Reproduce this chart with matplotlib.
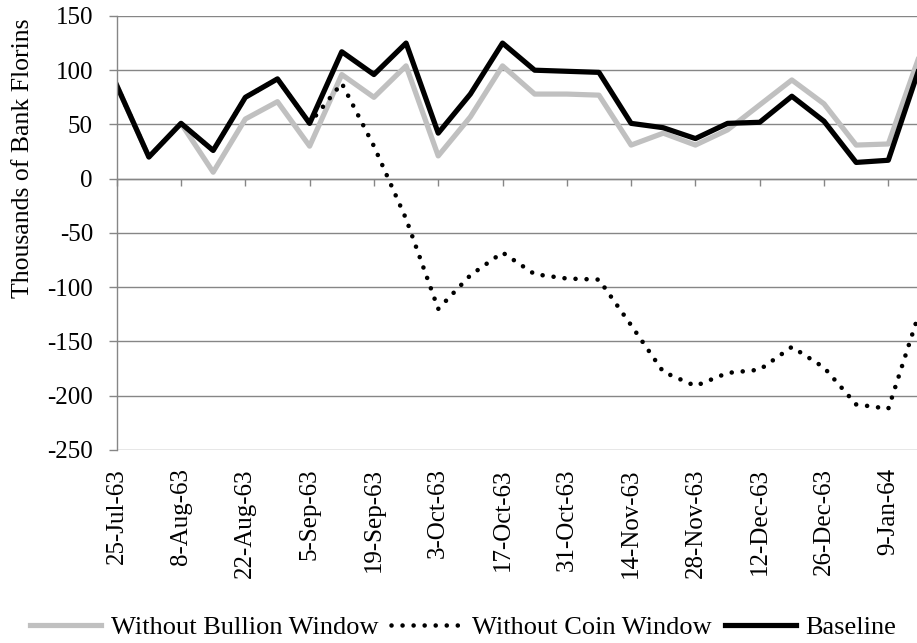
import pandas as pd
import matplotlib
matplotlib.use('Agg')
import matplotlib.pyplot as plt
import matplotlib.dates as mdates

plt.rcParams['font.family'] = ['Liberation Serif', 'DejaVu Serif']
plt.rcParams['axes.unicode_minus'] = False

# weekly observations, thousands of bank florins
weeks = pd.to_datetime([
    '1963-07-25', '1963-08-01', '1963-08-08', '1963-08-15', '1963-08-22',
    '1963-08-29', '1963-09-05', '1963-09-12', '1963-09-19', '1963-09-26',
    '1963-10-03', '1963-10-10', '1963-10-17', '1963-10-24', '1963-10-31',
    '1963-11-07', '1963-11-14', '1963-11-21', '1963-11-28', '1963-12-05',
    '1963-12-12', '1963-12-19', '1963-12-26', '1964-01-02', '1964-01-09',
    '1964-01-16'])

no_bullion = [86, 20, 51, 6, 55, 71, 30, 96, 75, 104, 21, 57, 104, 78, 78,
              77, 31, 42, 31, 45, 68, 91, 69, 31, 32, 116]
no_coin = [86, 20, 51, 26, 75, 92, 51, 88, 30, -37, -120, -89, -68, -88, -92,
           -93, -135, -178, -191, -179, -176, -155, -174, -208, -212, -120]
baseline = [86, 20, 51, 26, 75, 92, 51, 117, 96, 125, 42, 78, 125, 100, 99,
            98, 51, 47, 37, 51, 52, 76, 53, 15, 17, 105]

tick_labels = ['25-Jul-63', '8-Aug-63', '22-Aug-63', '5-Sep-63', '19-Sep-63',
               '3-Oct-63', '17-Oct-63', '31-Oct-63', '14-Nov-63', '28-Nov-63',
               '12-Dec-63', '26-Dec-63', '9-Jan-64']
tick_dates = weeks[::2]

grey = '#868686'

fig = plt.figure(figsize=(9.17, 6.43), dpi=100)
ax = fig.add_axes([0.1273, 0.3002, 0.8727, 0.6750])

ax.plot(weeks, no_bullion, color='#c0c0c0', lw=3.75, label='Without Bullion Window')
ax.plot(weeks, no_coin, color='black', lw=3.3, linestyle=(0, (0.01, 2.4)),
        dash_capstyle='round', label='Without Coin Window')
ax.plot(weeks, baseline, color='black', lw=3.75, label='Baseline')

ymin, ymax = -250, 150
ax.set_ylim(ymin, ymax)
ax.set_yticks(range(ymin, ymax + 1, 50))
ax.set_xlim(weeks[0], weeks[0] + pd.Timedelta(days=174.25))

ax.grid(axis='y', color=grey, lw=1.0)
ax.grid(axis='x', visible=False)
for s in ['top', 'right', 'bottom']:
    ax.spines[s].set_visible(False)
ax.spines['left'].set_color(grey)
ax.spines['left'].set_linewidth(1.0)

ax.tick_params(axis='y', length=5.8, width=1.0, color=grey, pad=11.3, labelsize=18)
ax.set_xticks(tick_dates)
ax.set_xticklabels(tick_labels, rotation=90)
ax.tick_params(axis='x', length=0, pad=13, labelsize=18)

# horizontal axis crosses at zero, tick marks hang below it
sec = ax.secondary_xaxis((0 - ymin) / (ymax - ymin))
sec.set_xticks(mdates.date2num(tick_dates))
sec.tick_params(direction='in', length=5, width=1.0, color=grey,
                labeltop=False, labelbottom=False)
sec.spines['top'].set_color(grey)
sec.spines['top'].set_linewidth(1.0)

fig.text(23 / 917, 1 - 158 / 643, 'Thousands of Bank Florins', rotation=90,
         ha='center', va='center', fontsize=18.5)

ax.legend(loc='center', bbox_to_anchor=(0.505, 0.024), bbox_transform=fig.transFigure,
          ncol=3, frameon=False, handlelength=2.7, handletextpad=0.35,
          columnspacing=0.5, fontsize=19, borderpad=0, borderaxespad=0)

fig.savefig('out.png', dpi=100)
